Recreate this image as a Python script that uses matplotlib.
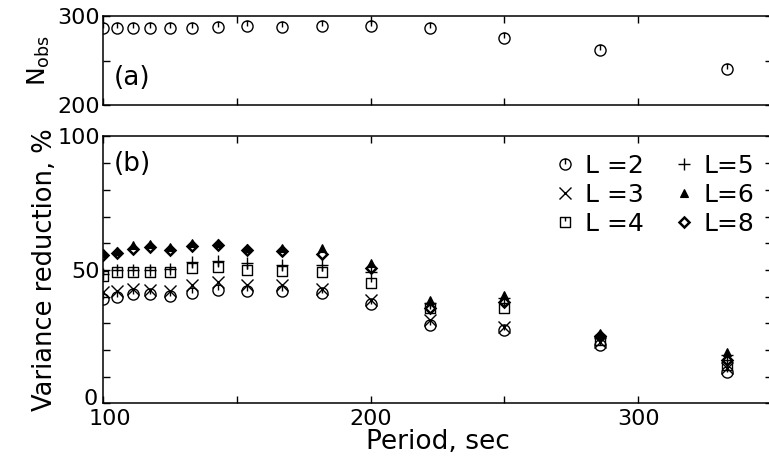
import numpy as np
import matplotlib
matplotlib.use("Agg")
import matplotlib.pyplot as plt
from matplotlib.path import Path
from matplotlib.ticker import MultipleLocator
import matplotlib.transforms as mtransforms

plt.rcParams['font.family'] = ['DejaVu Sans']

periods = [100.0, 105.3, 111.1, 117.6, 125.0, 133.3, 142.9, 153.8, 166.7, 181.8,
           200.0, 222.2, 250.0, 285.7, 333.3]
nobs = [286, 286, 286, 286, 286, 286, 288, 289, 288, 289, 289, 286, 275, 262, 240]

vr_L2 = [39.1, 40.0, 40.9, 40.9, 40.4, 41.5, 42.5, 42.2, 42.2, 41.2, 37.2, 29.4, 27.5, 21.9, 11.9]
vr_L3 = [41.9, 42.1, 42.7, 42.5, 42.1, 44.4, 45.6, 44.4, 44.4, 42.7, 38.7, 31.2, 28.7, 23.0, 13.1]
vr_L4 = [47.9, 49.1, 49.4, 49.4, 49.4, 50.6, 51.0, 50.0, 49.7, 49.4, 45.2, 35.6, 35.6, 23.8, 14.4]
vr_L5 = [48.5, 49.8, 50.0, 50.0, 50.4, 53.1, 53.3, 52.5, 51.9, 51.9, 49.4, 37.7, 39.4, 24.5, 18.1]
vr_L6 = [56.5, 57.0, 59.4, 59.7, 58.7, 60.2, 60.2, 58.1, 58.1, 58.1, 52.5, 38.7, 40.6, 26.4, 19.4]
vr_L8 = [55.6, 56.2, 57.9, 58.7, 57.5, 59.0, 59.4, 57.5, 57.2, 56.0, 50.6, 35.6, 38.1, 25.2, 16.2]

labels = ["L =2", "L =3", "L =4", "L=5", "L=6", "L=8"]

# custom markers
circ = Path.unit_circle()
tick = Path([[0, 0], [0, 1]], [Path.MOVETO, Path.LINETO])
circ_tick = Path.make_compound_path(circ, tick)
sq = Path([[-1, -1], [1, -1], [1, 1], [-1, 1], [-1, -1]],
          [Path.MOVETO, Path.LINETO, Path.LINETO, Path.LINETO, Path.CLOSEPOLY])
sq_tick = Path.make_compound_path(sq, Path([[0, 1], [0, 0.2]], [Path.MOVETO, Path.LINETO]))

fig = plt.figure(figsize=(7.69, 4.69), dpi=100)
axa = fig.add_axes([0.134, 0.776, 0.870, 0.190])
axb = fig.add_axes([0.134, 0.140, 0.870, 0.569])

for ax in (axa, axb):
    ax.set_xlim(100, 350)
    ax.xaxis.set_major_locator(MultipleLocator(100))
    ax.xaxis.set_minor_locator(MultipleLocator(50))
    ax.tick_params(which='both', direction='in', top=True, right=True,
                   length=5, width=1.0, labelsize=16, pad=2)
    for s in ax.spines.values():
        s.set_linewidth(1.1)

# panel (a)
axa.plot(periods, nobs, linestyle='none', marker=circ_tick, markersize=8,
         markerfacecolor='none', markeredgecolor='black', markeredgewidth=1.0)
axa.set_ylim(200, 300)
axa.yaxis.set_major_locator(MultipleLocator(100))
axa.yaxis.set_minor_locator(MultipleLocator(50))
axa.tick_params(labelbottom=False)
axa.set_ylabel(r"N$_{\mathregular{obs}}$", fontsize=18, labelpad=4)
axa.text(104, 222, "(a)", fontsize=19)

# panel (b)
kw = dict(linestyle='none', color='black')
h2, = axb.plot(periods, vr_L2, marker=circ_tick, markersize=8, markerfacecolor='none',
               markeredgewidth=1.0, **kw)
h3, = axb.plot(periods, vr_L3, marker='x', markersize=8, markeredgewidth=1.0, **kw)
h4, = axb.plot(periods, vr_L4, marker=sq_tick, markersize=7, markerfacecolor='none',
               markeredgewidth=1.0, **kw)
h5, = axb.plot(periods, vr_L5, marker='+', markersize=9, markeredgewidth=1.0, **kw)
h6, = axb.plot(periods, vr_L6, marker='^', markersize=6, markerfacecolor='black',
               markeredgewidth=0.8, **kw)
h8, = axb.plot(periods, vr_L8, marker='D', markersize=5, markerfacecolor='none',
               markeredgewidth=1.8, **kw)

axb.set_ylim(0, 100)
axb.yaxis.set_major_locator(MultipleLocator(50))
axb.yaxis.set_minor_locator(MultipleLocator(10))
axb.tick_params(axis='x', pad=4)
axb.set_ylabel("Variance reduction, %", fontsize=18.5, labelpad=0)
axb.set_xlabel("Period, sec", fontsize=19, labelpad=0)
axb.text(104, 87, "(b)", fontsize=19)

# nudge "0" up/left and "100" right, as in the reference
fig.canvas.draw()
for lab in axb.get_yticklabels():
    if lab.get_text() == '0':
        lab.set_transform(lab.get_transform() + mtransforms.ScaledTranslation(-3/100, 6/100, fig.dpi_scale_trans))
for lab in axb.get_xticklabels():
    if lab.get_text() == '100':
        lab.set_transform(lab.get_transform() + mtransforms.ScaledTranslation(7/100, 0, fig.dpi_scale_trans))

leg = axb.legend([h2, h3, h4, h5, h6, h8], labels, ncol=2, frameon=False,
                 fontsize=18, loc='upper right', bbox_to_anchor=(1.0, 1.0),
                 handlelength=0.6, handletextpad=0.5, columnspacing=1.3,
                 labelspacing=0.2, borderaxespad=0.3)

fig.savefig("out.png", dpi=100)
